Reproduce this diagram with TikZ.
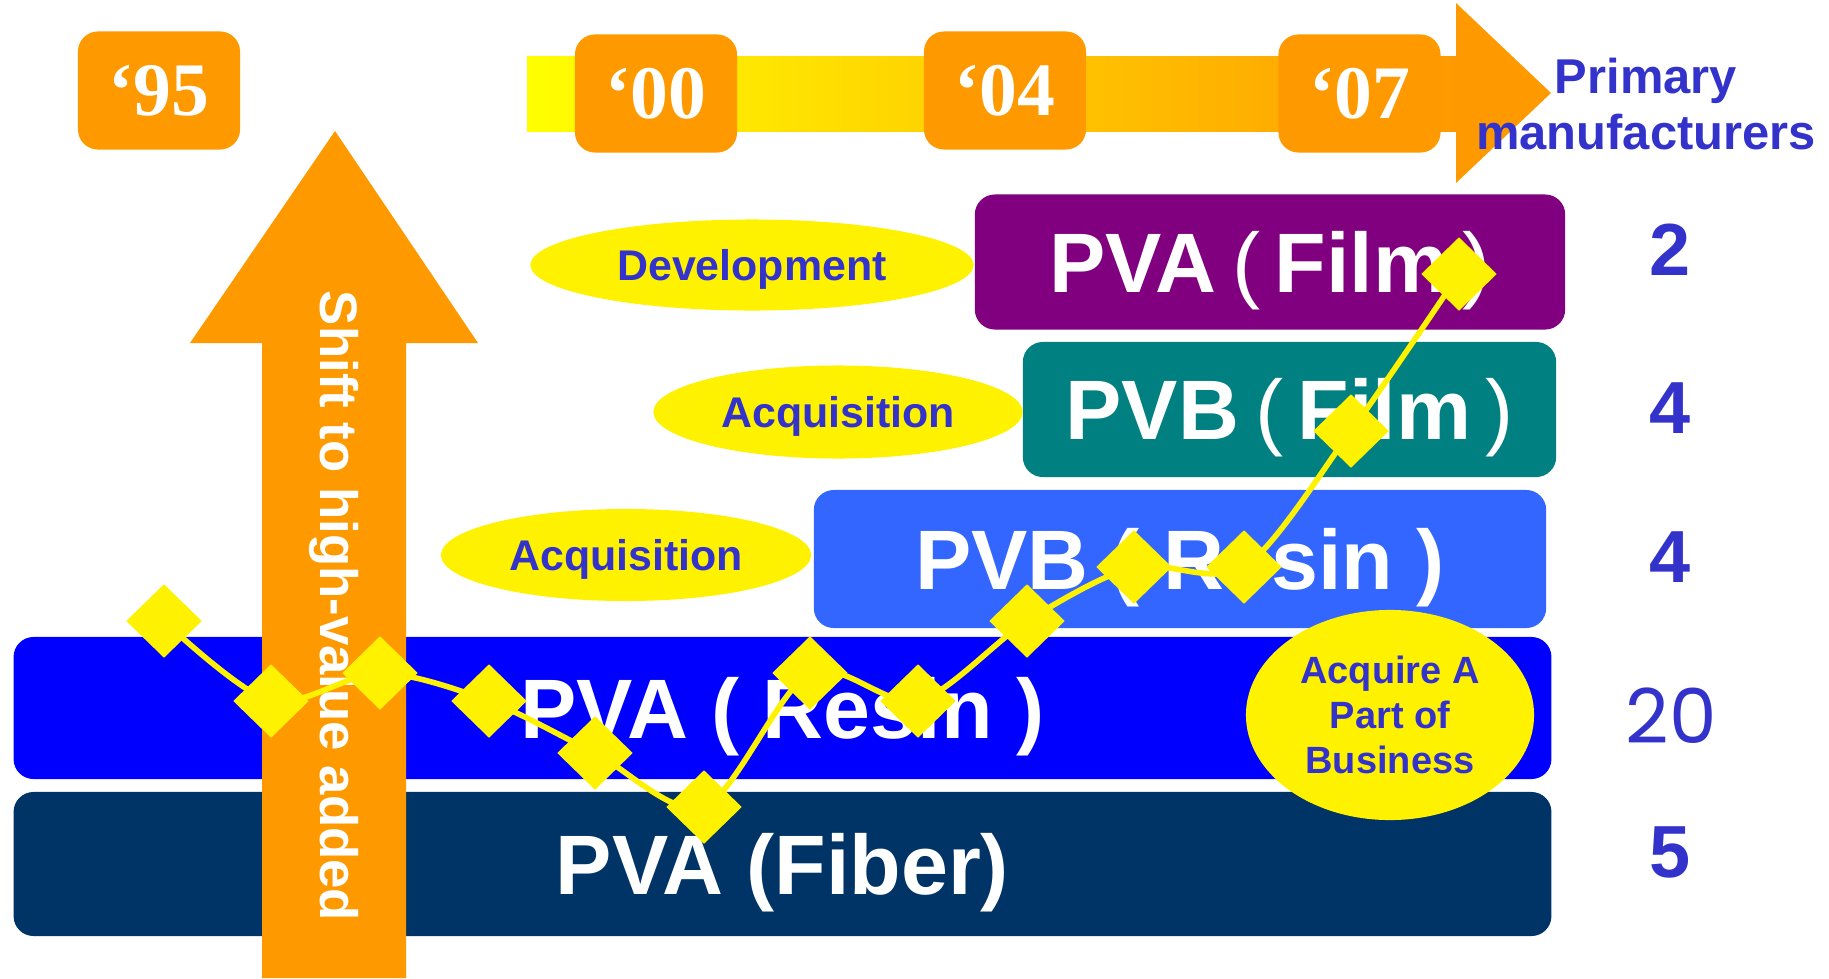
\documentclass[tikz,border=0pt]{standalone}
\usepackage{fontspec}
\setmainfont{Liberation Sans}
\newfontfamily\yearfont{Liberation Serif}
\newfontfamily\roundfont{Poppins}
\usepackage{tikz}
\usetikzlibrary{positioning}
\usetikzlibrary{shapes.geometric}
\definecolor{orng}{HTML}{FF9900}
\definecolor{labelblue}{HTML}{3333CC}
\definecolor{purplebar}{HTML}{800080}
\definecolor{tealbar}{HTML}{008080}
\definecolor{skybar}{HTML}{3366FF}
\definecolor{bluebar}{HTML}{0000FF}
\definecolor{navybar}{HTML}{003366}
\newcommand{\lpar}{\hspace{.19em}{\mdseries(}\hspace{.17em}}
\newcommand{\rpar}{\hspace{.17em}{\mdseries)}}
\tikzset {
  % year tags sitting on the time arrow
  year/.style = {fill=orng, rounded corners=0.2cm, minimum width=1.62cm,
    minimum height=1.18cm, inner sep=0, text=white,
    font=\yearfont\bfseries\fontsize{21.5}{24}\selectfont},
  % product bars
  bar/.style = {rounded corners=0.2cm, inner sep=0, text=white,
    text height=22pt, text depth=4.8pt,
    font=\bfseries\fontsize{24}{28}\selectfont},
  % yellow bubbles
  oval/.style = {ellipse, fill=yellow, inner sep=0, text=labelblue,
    text depth=0pt, font=\bfseries\fontsize{12.2}{14}\selectfont},
  num/.style = {text=labelblue, font=\bfseries\fontsize{21}{24}\selectfont},
  % the trend line and its markers
  dmd/.style = {diamond, fill=yellow, inner sep=0, minimum width=0.76cm,
    minimum height=0.74cm},
  trend/.style = {yellow, line width=1.6pt},
}

\begin{document}
\begin{tikzpicture}[x=0.01cm, y=-0.01cm]
  \useasboundingbox (0,0) rectangle (1829,978);

  % time arrow
  \shade[left color=yellow, right color=orng] (527,56) rectangle (1457,131);
  \fill[orng] (1456,3) -- (1551,93) -- (1456,183) -- cycle;

  \node[year] (y95) at (159,90.5) {‘95};
  \node[year] (y00) at (656,93.5) {‘00};
  \node[year] (y04) at (1005,90.5) {‘04};
  \node[year] (y07) at (1359.5,93.5) {‘07};

  \node[text=labelblue, align=center, font=\bfseries\fontsize{13.9}{15.9}\selectfont]
    (mfr) at (1646,104) {Primary\\manufacturers};

  % product bars
  \node[bar, fill=purplebar, minimum width=5.90cm, minimum height=1.35cm]
    (pvafilm) at (1270,262) {PVA\lpar Film\rpar};
  \node[bar, fill=tealbar, minimum width=5.33cm, minimum height=1.35cm]
    (pvbfilm) at (1289.5,409.5) {PVB\lpar Film\rpar};
  \node[bar, fill=skybar, minimum width=7.32cm, minimum height=1.38cm]
    (pvbresin) at (1180,559) {PVB ( Resin )};
  \node[bar, fill=bluebar, minimum width=15.37cm, minimum height=1.42cm]
    (pvaresin) at (782.5,708) {PVA ( Resin )};
  \node[bar, fill=navybar, minimum width=15.37cm, minimum height=1.44cm]
    (pvafiber) at (782.5,864) {PVA (Fiber)};

  % upward arrow
  \fill[orng] (262,978) -- (262,343) -- (190,343) -- (335,131) -- (478,343)
    -- (406,343) -- (406,978) -- cycle;
  \node[rotate=-90, text=white, font=\bfseries\fontsize{15}{18}\selectfont]
    (shift) at (334,606) {Shift to high-value added};

  \node[oval, minimum width=4.43cm, minimum height=0.91cm] (dev) at (752,265) {Development};
  \node[oval, minimum width=3.69cm, minimum height=0.93cm] (acq1) at (838,412) {Acquisition};
  \node[oval, minimum width=3.70cm, minimum height=0.92cm] (acq2) at (626,555) {Acquisition};
  \node[ellipse, fill=yellow, inner sep=0, minimum width=2.88cm, minimum height=2.10cm,
    text=labelblue, align=center, font=\bfseries\fontsize{10.8}{12.7}\selectfont]
    (part) at (1390,715) {Acquire A\\Part of\\Business};

  % number of makers
  \node[num] (n1) at (1670,250) {2};
  \node[num] (n2) at (1670,408) {4};
  \node[num] (n3) at (1670,557) {4};
  \node[text=labelblue, font=\roundfont\fontsize{21.5}{24}\selectfont] (n4) at (1671,716) {20};
  \node[num] (n5) at (1670,852) {5};

  % trend
  \coordinate (p1) at (164,621);
  \coordinate (p2) at (271,701);
  \coordinate (p3) at (380,673);
  \coordinate (p4) at (489,701);
  \coordinate (p5) at (595,753);
  \coordinate (p6) at (704,807);
  \coordinate (p7) at (810,673);
  \coordinate (p8) at (918,701);
  \coordinate (p9) at (1027,621);
  \coordinate (p10) at (1134,567);
  \coordinate (p11) at (1244,567);
  \coordinate (p12) at (1351,431);
  \coordinate (p13) at (1459,274);

  \draw[trend] plot[smooth, tension=0.5] coordinates {(p1) (p2) (p3) (p4) (p5)
    (p6) (p7) (p8) (p9) (p10) (p11) (p12) (p13)};

  \node[dmd] (d1) at (p1) {};
  \node[dmd] (d2) at (p2) {};
  \node[dmd] (d3) at (p3) {};
  \node[dmd] (d4) at (p4) {};
  \node[dmd] (d5) at (p5) {};
  \node[dmd] (d6) at (p6) {};
  \node[dmd] (d7) at (p7) {};
  \node[dmd] (d8) at (p8) {};
  \node[dmd] (d9) at (p9) {};
  \node[dmd] (d10) at (p10) {};
  \node[dmd] (d11) at (p11) {};
  \node[dmd] (d12) at (p12) {};
  \node[dmd] (d13) at (p13) {};
\end{tikzpicture}
\end{document}
